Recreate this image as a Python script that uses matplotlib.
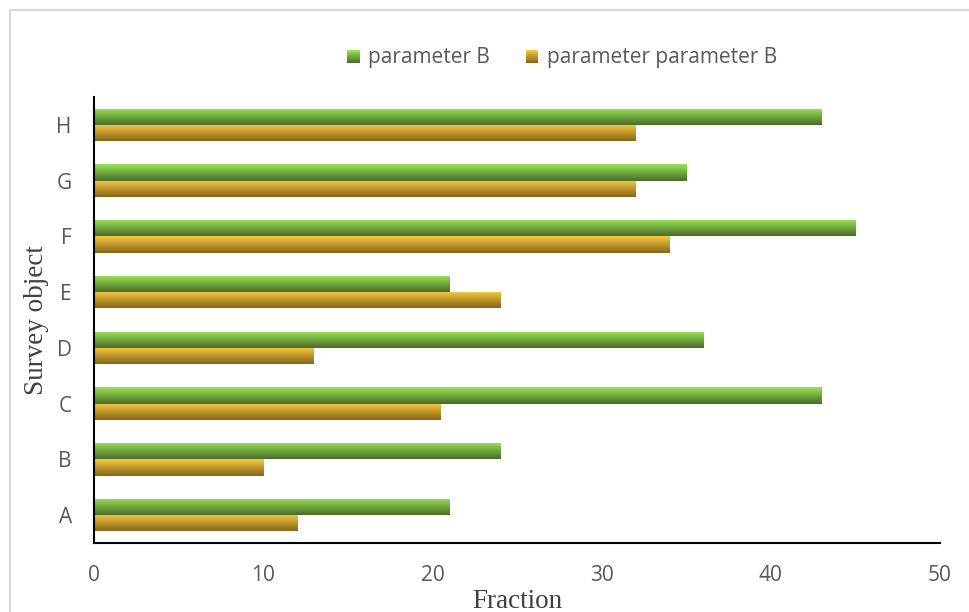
import numpy as np
import matplotlib
matplotlib.use("Agg")
import matplotlib.pyplot as plt
from matplotlib.patches import Rectangle
from matplotlib.legend_handler import HandlerBase
from matplotlib.colors import LinearSegmentedColormap

categories = ["A", "B", "C", "D", "E", "F", "G", "H"]
param_b = [21, 24, 43, 36, 21, 45, 35, 43]
param_pp_b = [12, 10, 20.5, 13, 24, 34, 32, 32]
series_names = ["parameter B", "parameter parameter B"]
xticks = [0, 10, 20, 30, 40, 50]

green_top, green_bot = "#9be35a", "#4a6d27"
orange_top, orange_bot = "#f8ca3f", "#87661c"

fig = plt.figure(figsize=(9.7, 6.12), dpi=100)
ax = fig.add_axes([94/970, 1-543/612, (940-94)/970, (543-97)/612])

y = np.arange(len(categories))
h = 0.29
bars_g = ax.barh(y + h/2, param_b, height=h, color=green_bot, linewidth=0)
bars_o = ax.barh(y - h/2, param_pp_b, height=h, color=orange_bot, linewidth=0)

def grad_fill(bars, top, bot):
    cmap = LinearSegmentedColormap.from_list("g", [bot, top])
    grad = np.linspace(1, 0, 64).reshape(-1, 1)  # row0 = top
    for b in bars:
        x0, y0 = b.get_x(), b.get_y()
        w, hh = b.get_width(), b.get_height()
        im = ax.imshow(grad, cmap=cmap, vmin=0, vmax=1, aspect="auto",
                       extent=[x0, x0 + w, y0, y0 + hh], origin="upper",
                       interpolation="bilinear", zorder=2)
        im.set_clip_path(b)

grad_fill(bars_g, green_top, green_bot)
grad_fill(bars_o, orange_top, orange_bot)

ax.set_xlim(0, 50)
ax.set_ylim(-0.5, len(categories) - 0.5)
ax.set_aspect("auto")
ax.set_xticks(xticks)
ax.set_yticks(y)
ax.set_yticklabels(categories)
ax.tick_params(length=0, labelsize=15, colors="#595959", labelfontfamily="Open Sans")
ax.tick_params(axis="y", pad=16)
ax.tick_params(axis="x", pad=16)
for s in ["top", "right"]:
    ax.spines[s].set_visible(False)
for s in ["left", "bottom"]:
    ax.spines[s].set_linewidth(1.5)
    ax.spines[s].set_color("black")

ax.set_xlabel("Fraction", family="Liberation Serif", fontsize=19.5, color="#404040")
ax.set_ylabel("Survey object", family="Liberation Serif", fontsize=19.5, color="#404040")
ax.xaxis.set_label_coords(0.5, (543-601)/446)
ax.xaxis.label.set_va("center")
ax.yaxis.set_label_coords((37-94)/846, 0.5)
ax.yaxis.label.set_va("center")

class GradHandler(HandlerBase):
    def __init__(self, top, bot):
        super().__init__()
        self.top, self.bot = top, bot
    def create_artists(self, legend, orig, xd, yd, width, height, fontsize, trans):
        cmap = LinearSegmentedColormap.from_list("g", [self.bot, self.top])
        n = 12
        arts = []
        s = min(width, height)
        for i in range(n):
            r = Rectangle((-xd, -yd + s * i / n), s, s / n + 0.3,
                          facecolor=cmap(i / (n - 1)), edgecolor="none", transform=trans)
            arts.append(r)
        return arts

h1 = Rectangle((0, 0), 1, 1)
h2 = Rectangle((0, 0), 1, 1)
fig.legend([h1, h2], series_names, loc="center", bbox_to_anchor=(562/970, 1-58/612),
           ncol=2, frameon=False, handlelength=0.62, handleheight=0.62,
           handletextpad=0.4, columnspacing=1.7,
           prop={"family": "Open Sans", "size": 15},
           labelcolor="#595959",
           handler_map={h1: GradHandler(green_top, green_bot), h2: GradHandler(orange_top, orange_bot)})

fig.patches.append(Rectangle((10/970, -0.1), 1.2, 1.1 - 10/612, transform=fig.transFigure,
                             facecolor="none", edgecolor="#d9d9d9", linewidth=1.5))

fig.savefig("out.png", dpi=100)
